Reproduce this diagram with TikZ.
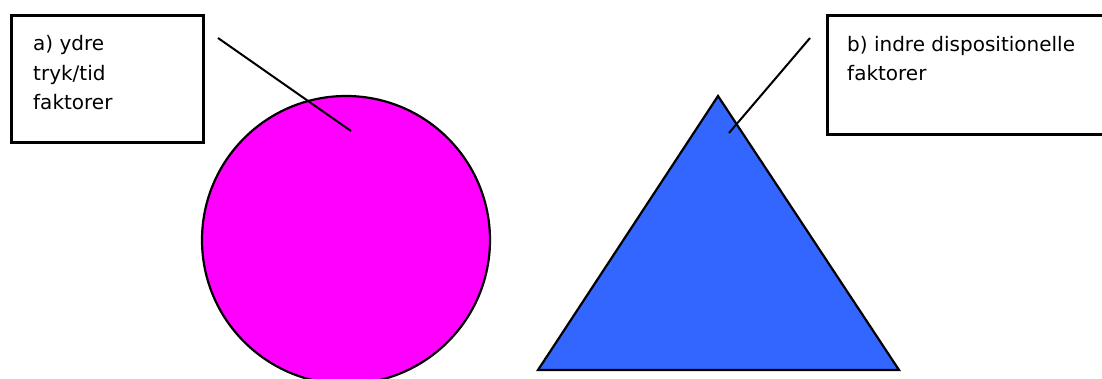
\documentclass[tikz,border=0pt]{standalone}
\usepackage{fontspec}
\setmainfont{DejaVu Sans}
\definecolor{circmag}{HTML}{FF00FF}
\definecolor{triblue}{HTML}{3366FF}
\begin{document}
\begin{tikzpicture}[x=1pt,y=-1pt,
  labelbox/.style={draw=black, line width=2.6pt, fill=white, inner sep=0pt, anchor=north west},
  labeltext/.style={font=\fontsize{20}{29.5}\selectfont, align=left, anchor=base west, inner sep=0pt},
  pointer/.style={draw=black, line width=2pt},
  shapeline/.style={draw=black, line width=2.2pt}]
\useasboundingbox (0,0) rectangle (1102,379);
\clip (0,0) rectangle (1102,379);
% circle
\node[circle, shapeline, fill=circmag, minimum size=288pt, inner sep=0pt] (circ) at (346,240) {};
% triangle
\coordinate (tA) at (718,96);
\coordinate (tB) at (899,370);
\coordinate (tC) at (538,370);
\draw[shapeline, fill=triblue, line join=miter] (tA) -- (tB) -- (tC) -- cycle;
% boxes
\node[labelbox, minimum width=192pt, minimum height=127pt] (boxa) at (10,14) {};
\node[labeltext] (texta) at (33,110) {a) ydre\\tryk/tid\\faktorer};
\node[labelbox, minimum width=300pt, minimum height=119pt] (boxb) at (826,14) {};
\node[labeltext] (textb) at (847,81) {b) indre dispositionelle\\faktorer};
% pointers
\coordinate (a1) at (218,38);
\coordinate (a2) at (351,131);
\draw[pointer] (a1) -- (a2);
\coordinate (b1) at (810,38);
\coordinate (b2) at (729,133);
\draw[pointer] (b1) -- (b2);
\end{tikzpicture}
\end{document}
